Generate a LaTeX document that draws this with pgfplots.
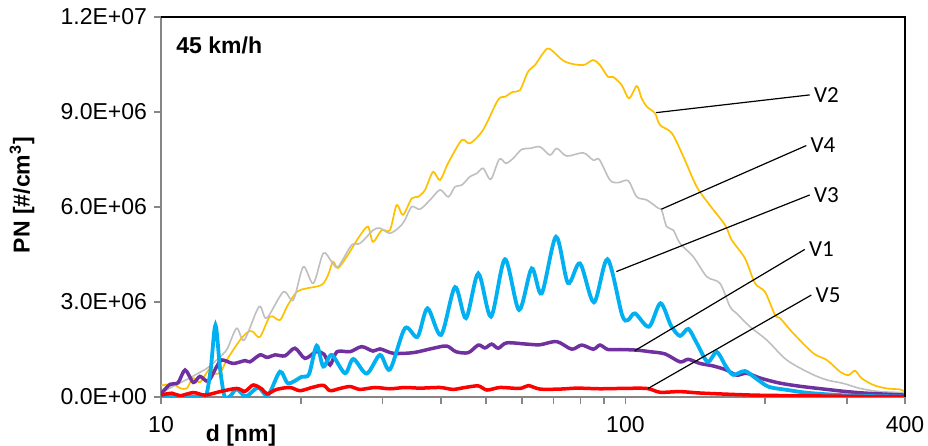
\documentclass[border=0pt]{standalone}
\usepackage{pgfplots}
\pgfplotsset{compat=1.18}
\usepackage{fontspec}
\setmainfont{Liberation Sans}
\newfontfamily\calibri{Carlito}

\definecolor{cV2}{HTML}{FFC000}
\definecolor{cV4}{HTML}{BFBFBF}
\definecolor{cV3}{HTML}{00B0F0}
\definecolor{cV1}{HTML}{7030A0}
\definecolor{cV5}{HTML}{FF0000}
\definecolor{axgray}{HTML}{868686}

\begin{document}
\begin{tikzpicture}
\begin{axis}[
  at={(0,0)}, anchor=south west,
  scale only axis, width=372bp, height=190bp,
  xmode=log, xmin=10, xmax=400, ymin=0, ymax=12e6,
  xtick={10,20,30,40,50,60,70,80,90,100,200,300,400},
  xticklabels={10,,,,,,,,,100,,,400},
  minor xtick={},
  ytick={0,3e6,6e6,9e6,12e6},
  yticklabels={0.0E+00,3.0E+06,6.0E+06,9.0E+06,1.2E+07},
  scaled y ticks=false,
  axis lines*=left,
  axis line style={axgray, line width=0.9bp},
  tick align=outside, major tick length=3.5bp,
  tick style={axgray, line width=0.9bp},
  tick label style={font=\fontsize{11.5bp}{13bp}\selectfont},
  xticklabel style={anchor=base, yshift=-14bp},
  yticklabel style={anchor=east},
  clip mode=individual,
]
% V2
\addplot[cV2, line width=0.85bp, smooth] coordinates {
(10.0,0.36e6) (10.6,0.41e6) (10.99,0.28e6) (11.36,0.27e6) (11.72,0.6e6) (12.13,0.47e6)
(12.75,0.9e6) (13.07,0.73e6) (13.46,0.8e6) (13.86,1.17e6) (14.8,1.8e6) (15.42,2.06e6)
(15.78,2.06e6) (16.34,1.9e6) (17.17,2.54e6) (18.04,2.43e6) (18.67,2.85e6) (19.6,3.32e6)
(20.59,3.43e6) (22.18,3.54e6) (22.89,3.85e6) (23.46,4.27e6) (24.05,4.07e6) (25.11,4.43e6)
(25.91,4.75e6) (26.82,5.1e6) (27.91,5.38e6) (28.61,4.9e6) (29.87,5.27e6) (31.12,5.27e6)
(32.17,6.06e6) (33.19,5.75e6) (34.66,6.27e6) (35.76,6.32e6) (37.03,6.54e6) (38.53,7.11e6)
(39.89,6.85e6) (41.5,7.38e6) (44.41,8.11e6) (46.28,8.01e6) (49.36,8.43e6) (53.17,9.38e6)
(55.04,9.48e6) (57.28,9.64e6) (59.29,9.69e6) (61.7,10.27e6) (63.87,10.48e6) (66.45,10.85e6)
(68.56,11.0e6) (74.11,10.59e6) (81.01,10.48e6) (85.14,10.64e6) (88.17,10.48e6) (91.72,10.11e6)
(94.04,10.11e6) (98.18,9.85e6) (101.8,9.43e6) (105.8,9.82e6) (108.4,9.43e6) (111.2,9.17e6)
(115.8,8.96e6) (118.7,8.59e6) (125.9,8.33e6) (133.3,7.59e6) (142.4,6.64e6) (152.1,6.05e6)
(163.9,5.43e6) (169.4,4.96e6) (180.9,4.38e6) (190.2,3.59e6) (199.8,3.32e6) (210,2.59e6)
(215.3,2.49e6) (229.9,2.01e6) (253.9,1.38e6) (271.3,1.17e6) (289.8,0.8e6) (302,0.69e6)
(312.2,0.83e6) (322.7,0.59e6) (341.9,0.38e6) (365.3,0.27e6) (390.2,0.24e6) (400,0.17e6)
};
% V4
\addplot[cV4, line width=0.8bp, smooth] coordinates {
(10.0,0.12e6) (10.6,0.33e6) (11.36,0.55e6) (12.13,0.78e6) (12.54,0.9e6) (13.18,1.17e6)
(13.86,1.5e6) (14.55,2.17e6) (15.11,1.8e6) (16.26,2.85e6) (16.89,2.49e6) (18.34,3.32e6)
(19.27,3.06e6) (20.25,4.11e6) (21.28,3.59e6) (22.36,4.54e6) (23.31,4.27e6) (24.05,4.11e6)
(25.74,4.8e6) (26.82,4.85e6) (28.65,5.27e6) (29.62,5.33e6) (31.12,5.17e6) (32.7,5.38e6)
(33.52,5.59e6) (34.66,6.01e6) (36.12,5.93e6) (37.96,6.22e6) (39.89,6.54e6) (41.56,6.32e6)
(42.96,6.64e6) (44.41,6.69e6) (46.28,6.96e6) (47.84,7.06e6) (49.43,7.22e6) (51.28,6.87e6)
(53.52,7.51e6) (55.33,7.38e6) (57.36,7.54e6) (59.8,7.82e6) (62.32,7.85e6) (65.48,7.9e6)
(68.81,7.64e6) (71.14,7.85e6) (74.75,7.61e6) (81.13,7.71e6) (85.28,7.48e6) (87.87,7.5e6)
(92.64,6.85e6) (96.54,6.77e6) (101.4,6.83e6) (105.8,6.32e6) (111.2,6.22e6) (117.7,5.96e6)
(119.7,5.9e6) (122.7,5.38e6) (126.8,5.27e6) (131.1,4.85e6) (140,4.43e6) (149.7,3.8e6)
(159.8,3.59e6) (168,2.85e6) (173.6,2.64e6) (185.5,2.22e6) (201.5,1.8e6) (222.5,1.17e6)
(249.8,0.75e6) (271.3,0.54e6) (294.6,0.43e6) (320,0.27e6) (353.3,0.17e6) (400,0.14e6)
};
% V1
\addplot[cV1, line width=1.75bp, smooth] coordinates {
(10,0.1e6) (10.46,0.4e6) (10.88,0.45e6) (11.27,0.85e6) (11.74,0.46e6) (12.13,0.65e6)
(12.64,0.5e6) (13.18,0.96e6) (13.53,1.17e6) (14.31,1.06e6) (15.17,1.15e6) (15.55,1.11e6)
(16.34,1.33e6) (16.92,1.25e6) (17.6,1.33e6) (18.49,1.3e6) (19.43,1.54e6) (20.42,1.22e6)
(21.57,1.43e6) (22.44,1.35e6) (23.12,1.01e6) (23.93,1.43e6) (25.53,1.43e6) (27.05,1.59e6)
(28.61,1.45e6) (29.62,1.52e6) (31.64,1.38e6) (34.88,1.4e6) (38.59,1.54e6) (41.23,1.61e6)
(43.17,1.43e6) (45.88,1.4e6) (48.22,1.64e6) (49.85,1.55e6) (51.53,1.67e6) (53.24,1.54e6)
(55.51,1.71e6) (61.31,1.67e6) (65.48,1.65e6) (71.14,1.75e6) (76.63,1.51e6) (80.53,1.64e6)
(85.28,1.51e6) (88.17,1.64e6) (91.72,1.5e6) (97.36,1.5e6) (105.8,1.48e6) (113,1.43e6)
(121.7,1.36e6) (131.1,1.11e6) (136.6,1.19e6) (144.7,1.06e6) (154.6,0.98e6) (165.2,0.85e6)
(173.6,0.69e6) (182.5,0.75e6) (194.9,0.6e6) (213.2,0.45e6) (231.9,0.36e6) (249.8,0.3e6)
(271.3,0.24e6) (299.6,0.17e6) (330.8,0.12e6) (400,0.06e6)
};
% V3
\addplot[cV3, line width=1.9bp, smooth] coordinates {
(10,0.0) (12.13,0.02e6) (12.5,0.03e6) (12.8,0.9e6) (13.1,2.27e6) (13.4,0.9e6) (13.7,0.03e6)
(14.08,0.02e6) (14.55,0.25e6) (15.24,0.02e6) (16.18,0.3e6) (16.99,0.05e6) (18.04,0.8e6)
(18.79,0.43e6) (20.09,0.64e6) (20.83,0.72e6) (21.64,1.62e6) (22.36,0.96e6) (23.31,1.33e6)
(24.9,0.75e6) (25.95,1.2e6) (27.73,0.74e6) (29.62,1.33e6) (31.12,0.87e6) (33.52,2.17e6)
(35.67,1.9e6) (37.49,2.8e6) (40.09,1.96e6) (42.96,3.47e6) (45.37,2.49e6) (48.22,3.9e6)
(51.36,2.54e6) (55.04,4.35e6) (59.01,2.75e6) (62.84,4.06e6) (66.03,3.27e6) (70.9,5.06e6)
(75.23,3.6e6) (79.85,4.22e6) (85.56,2.99e6) (91.51,4.35e6) (98.33,2.6e6) (101.3,2.43e6)
(104.9,2.64e6) (112.4,2.22e6) (119,2.96e6) (125.4,2.25e6) (131.1,1.93e6) (136.6,2.15e6)
(142.6,1.69e6) (150.3,1.11e6) (157.3,1.42e6) (164.7,0.96e6) (170.7,0.7e6) (180.9,0.82e6)
(191.7,0.57e6) (203.8,0.32e6) (223.9,0.22e6) (247.3,0.13e6) (289.8,0.06e6) (336.3,0.03e6)
(400,0.01e6)
};
% V5
\addplot[cV5, line width=1.75bp, smooth] coordinates {
(10,0.06e6) (10.56,0.12e6) (10.99,0.04e6) (11.74,0.14e6) (12.44,0.06e6) (13.4,0.17e6)
(14.55,0.27e6) (15.17,0.18e6) (15.8,0.38e6) (16.5,0.25e6) (16.92,0.1e6) (17.75,0.24e6)
(18.95,0.3e6) (19.92,0.2e6) (21.14,0.3e6) (22.36,0.37e6) (23.12,0.2e6) (24.29,0.27e6)
(25.53,0.33e6) (26.82,0.24e6) (28.89,0.3e6) (31.12,0.26e6) (33.52,0.3e6) (36.12,0.28e6)
(39.89,0.3e6) (42.54,0.24e6) (45.14,0.3e6) (48.22,0.35e6) (50.35,0.22e6) (53.7,0.3e6)
(59.29,0.27e6) (61.79,0.36e6) (65.48,0.25e6) (72.31,0.25e6) (78.66,0.28e6) (88.17,0.26e6)
(97.36,0.27e6) (111.2,0.27e6) (118.7,0.15e6) (131.1,0.17e6) (147.2,0.12e6) (188.3,0.06e6)
(237.7,0.04e6) (400,0.0)
};
% frame top and right
\draw[black, line width=0.6bp] (rel axis cs:0,1) -- (rel axis cs:1,1) -- (rel axis cs:1,0);
% leader lines and labels
\draw[black, line width=0.6bp] (116.5,8.98e6) -- (249.4,9.54e6);
\draw[black, line width=0.6bp] (119.5,5.93e6) -- (245.2,7.94e6);
\draw[black, line width=0.6bp] (95.6,3.96e6) -- (249.4,6.38e6);
\draw[black, line width=0.6bp] (104.7,1.46e6) -- (243.3,4.66e6);
\draw[black, line width=0.6bp] (111.9,0.27e6) -- (251.4,3.22e6);
\begin{scope}[every node/.style={anchor=west, inner sep=0pt, xshift=2bp,
    font=\calibri\fontsize{11.5bp}{13bp}\selectfont}]
\node at (249.4,9.54e6) {V2};
\node at (245.2,7.94e6) {V4};
\node at (249.4,6.38e6) {V3};
\node at (243.3,4.66e6) {V1};
\node at (251.4,3.22e6) {V5};
\end{scope}
\node[anchor=base west, inner sep=0pt, font=\bfseries\fontsize{11.5bp}{13bp}\selectfont]
  at (rel axis cs:0.0202,0.905) {45 km/h};
\end{axis}
\node[anchor=base, inner sep=0pt, font=\bfseries\fontsize{11.5bp}{13bp}\selectfont]
  at (40bp,-22.3bp) {d [nm]};
\node[rotate=90, inner sep=0pt, font=\bfseries\fontsize{11.5bp}{13bp}\selectfont]
  at (-69.5bp,101bp) {PN [\#/cm\textsuperscript{3}]};
\pgfresetboundingbox
\useasboundingbox (-80.5bp,-24.5bp) rectangle (383.5bp,198.5bp);
\end{tikzpicture}
\end{document}
